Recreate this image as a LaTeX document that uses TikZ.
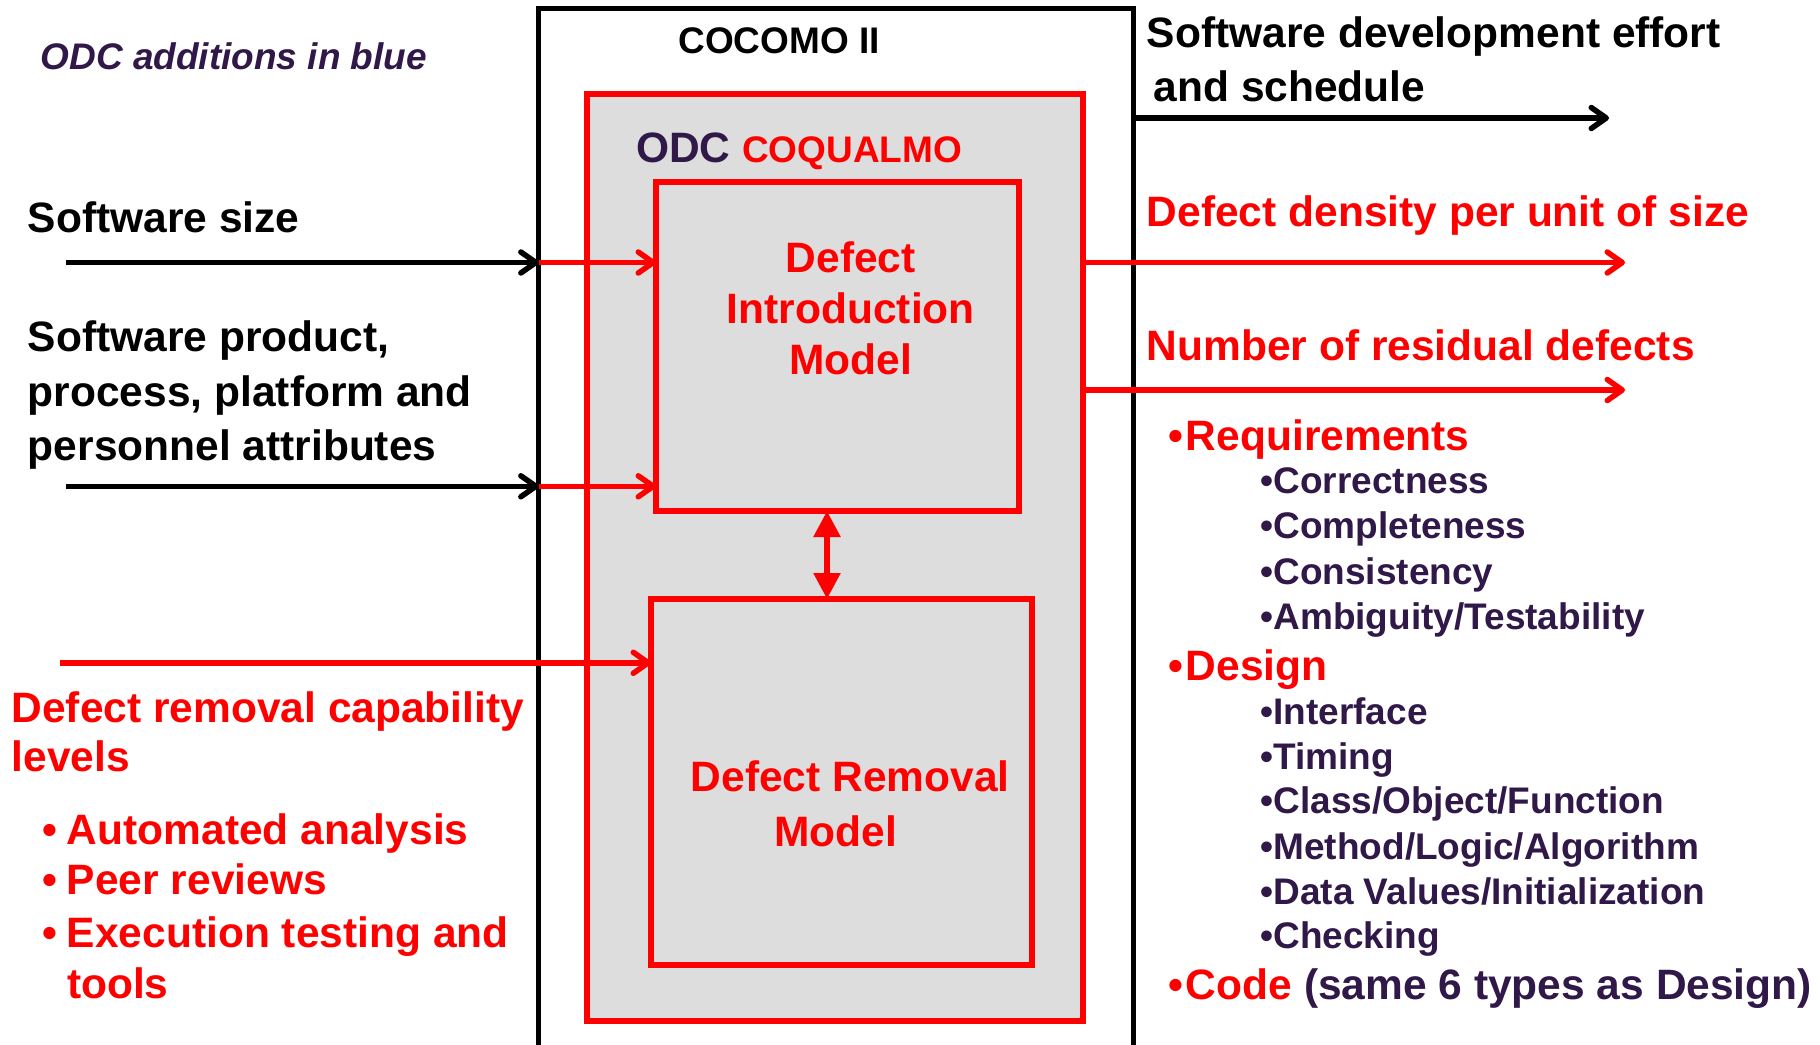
\documentclass[tikz,border=0pt]{standalone}
\usepackage{fontspec}
\setmainfont{Liberation Sans}
\usetikzlibrary{arrows.meta}
\definecolor{odcred}{HTML}{FF0000}
\definecolor{odcpurple}{HTML}{301848}
\definecolor{odcgray}{HTML}{DDDDDD}
\begin{document}
\begin{tikzpicture}[x=1pt,y=-1pt,
  lbl/.style={inner sep=0pt, outer sep=0pt, anchor=base west, font=\fontsize{42.5}{51}\selectfont\bfseries},
  lblc/.style={lbl, anchor=base},
  sub/.style={lbl, font=\fontsize{37}{45}\selectfont\bfseries, text=odcpurple},
  redlbl/.style={lbl, text=odcred},
  box/.style={draw=odcred, line width=5.5pt, fill=odcgray, inner sep=0pt, outer sep=0pt, anchor=north west},
  barb/.style={line width=5.5pt, -{Straight Barb[round,length=15pt,width=21pt]}},
  dbl/.style={line width=5.5pt, draw=odcred, {Triangle[length=26pt,width=26pt]}-{Triangle[length=26pt,width=26pt]}}
]
\useasboundingbox (0,0) rectangle (1820,1044);
\clip (0,0) rectangle (1820,1044);

% boxes
\node[draw=black, line width=5pt, inner sep=0pt, outer sep=0pt, anchor=north west,
      minimum width=594.4pt, minimum height=1100pt] (cocomo) at (538.6,8) {};
\node[box, minimum width=496pt, minimum height=927pt] (coqualmo) at (587,94) {};
\node[box, minimum width=363pt, minimum height=329pt] (intro) at (656,182) {};
\node[box, minimum width=381pt, minimum height=366pt] (removal) at (651,599) {};

% titles
\node[lblc, font=\fontsize{37}{45}\selectfont\bfseries] (cocomotitle) at (779,53) {COCOMO II};
\node[lbl, text=odcred] (coqtitle) at (636,162) {\textcolor{odcpurple}{ODC} {\fontsize{37}{45}\selectfont COQUALMO}};
\node[lbl, font=\fontsize{37}{45}\selectfont\bfseries\itshape, text=odcpurple] (note) at (40.6,69) {ODC additions in blue};

% box texts
\node[lblc, text=odcred] (intro1) at (850.8,272.7) {Defect};
\node[lblc, text=odcred] (intro2) at (850.8,323.7) {Introduction};
\node[lblc, text=odcred] (intro3) at (850.8,374.8) {Model};
\node[lblc, text=odcred] (rem1) at (850.2,791.5) {Defect Removal};
\node[lblc, text=odcred] (rem2) at (835.7,846) {Model};

% left inputs
\node[lbl] (size) at (27.9,232) {Software size};
\node[lbl] (attr1) at (27.9,351.6) {Software product,};
\node[lbl] (attr2) at (27.9,406.2) {process, platform and};
\node[lbl] (attr3) at (27.9,460.7) {personnel attributes};
\node[redlbl] (drc1) at (11.6,722) {Defect removal capability};
\node[redlbl] (drc2) at (11.6,771.8) {levels};
\node[redlbl] (b1) at (42,844.9) {\makebox[25pt][l]{•}Automated analysis};
\node[redlbl] (b2) at (42,894.8) {\makebox[25pt][l]{•}Peer reviews};
\node[redlbl] (b3) at (42,947) {\makebox[25pt][l]{•}Execution testing and};
\node[redlbl] (b4) at (67,998) {tools};

% right outputs
\node[lbl] (eff1) at (1146.8,47.5) {Software development effort};
\node[lbl] (eff2) at (1153.7,101) {and schedule};
\node[redlbl] (dens) at (1146.8,226) {Defect density per unit of size};
\node[redlbl] (res) at (1146.8,360) {Number of residual defects};
\node[redlbl] (req) at (1168,450) {\makebox[18pt][l]{•}Requirements};
\node[sub] (s1) at (1260.5,493.5) {•Correctness};
\node[sub] (s2) at (1260.5,538.8) {•Completeness};
\node[sub] (s3) at (1260.5,584) {•Consistency};
\node[sub] (s4) at (1260.5,629.3) {•Ambiguity/Testability};
\node[redlbl] (des) at (1168,680) {\makebox[18pt][l]{•}Design};
\node[sub] (d1) at (1260.5,724.5) {•Interface};
\node[sub] (d2) at (1260.5,769.8) {•Timing};
\node[sub] (d3) at (1260.5,813.9) {•Class/Object/Function};
\node[sub] (d4) at (1260.5,859.2) {•Method/Logic/Algorithm};
\node[sub] (d5) at (1260.5,904.4) {•Data Values/Initialization};
\node[sub] (d6) at (1260.5,948.5) {•Checking};
\node[lbl, text=odcpurple] (code) at (1168,999.3) {\textcolor{odcred}{\makebox[18pt][l]{•}Code} (same 6 types as Design)};

% connectors
\coordinate (sizeStart) at (66,262.5);
\coordinate (attrStart) at (66,486.3);
\coordinate (remStart) at (60.4,662.8);
\coordinate (effortEnd) at (1609,118);
\coordinate (densEnd) at (1625,262.5);
\coordinate (resEnd) at (1625,390);
\coordinate (dx) at (827,550);

\draw[barb] (sizeStart) -- (sizeStart -| cocomo.west);
\draw[barb, odcred] (sizeStart -| cocomo.west) -- (sizeStart -| intro.west);
\draw[barb] (attrStart) -- (attrStart -| cocomo.west);
\draw[barb, odcred] (attrStart -| cocomo.west) -- (attrStart -| intro.west);
\draw[barb, odcred] (remStart) -- (remStart -| removal.west);
\draw[barb] (effortEnd -| cocomo.east) -- (effortEnd);
\draw[barb, odcred] (densEnd -| coqualmo.east) -- (densEnd);
\draw[barb, odcred] (resEnd -| coqualmo.east) -- (resEnd);
\draw[dbl] (dx |- intro.south) -- (dx |- removal.north);
\end{tikzpicture}
\end{document}
